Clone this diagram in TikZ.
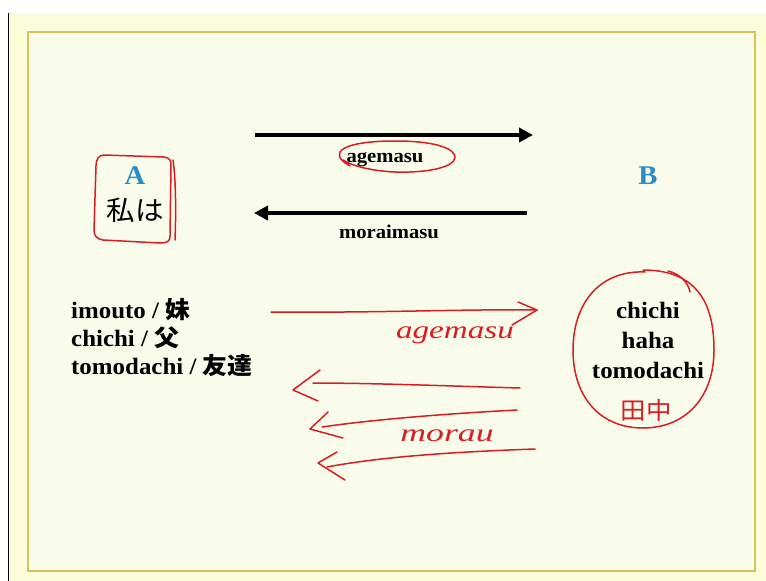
\documentclass[tikz,border=0pt]{standalone}
\usepackage{fontspec}
\setmainfont{Liberation Serif}[FakeStretch=1.06]
\newfontfamily\cjk{Noto Sans CJK JP}[FakeStretch=1.06]
\usetikzlibrary{arrows.meta}
\definecolor{slide}{HTML}{FBFDDA}
\definecolor{inner}{HTML}{F9FCEA}
\definecolor{gold}{HTML}{D6C35C}
\definecolor{ink}{HTML}{D81E22}
\definecolor{lblue}{HTML}{2B8BC6}
\begin{document}
\begin{tikzpicture}[x=1pt,y=-1pt,
  lbl/.style={inner sep=0pt,font=\bfseries\fontsize{19.5}{22}\selectfont},
  item/.style={inner sep=0pt,anchor=base west,font=\bfseries\fontsize{23.5}{26}\selectfont},
  ritem/.style={inner sep=0pt,anchor=base,font=\bfseries\fontsize{23.5}{26}\selectfont},
  letter/.style={inner sep=0pt,anchor=base,text=lblue,font=\bfseries\fontsize{27}{30}\selectfont},
  blackarrow/.style={line width=3.6pt,-{Triangle[length=14pt,width=14pt]}},
  pen/.style={draw=ink,line width=1.5pt,line cap=round,line join=round},
  hand/.style={inner sep=0pt,text=ink,font=\itshape\fontsize{25}{28}\selectfont}]
\useasboundingbox (0,0) rectangle (766,581);
\fill[white] (0,0) rectangle (766,581);
\fill[slide] (8,13) rectangle (766,581);
\draw[black,line width=0.8pt] (8.5,13) -- (8.5,581);
\draw[gold,line width=1.5pt,fill=inner] (28,32) rectangle (755,571);

% top arrows
\coordinate (t1s) at (255,135);
\coordinate (t1e) at (533,135);
\coordinate (t2s) at (527,213);
\coordinate (t2e) at (254,213);
\draw[blackarrow] (t1s) -- (t1e);
\draw[blackarrow] (t2s) -- (t2e);
\node[lbl,anchor=base] (age) at (385,162) {agemasu};
\node[lbl,anchor=base] (mor) at (389,238) {moraimasu};

% A and B
\node[letter] (A) at (135,184) {A};
\node[inner sep=0pt,anchor=base] (watashi) at (135,220) {\cjk\fontsize{27}{30}\selectfont 私は};
\node[letter] (B) at (648,184) {B};

% left list
\node[item] (l1) at (71,318) {imouto / {\cjk 妹}};
\node[item] (l2) at (71,346) {chichi / {\cjk 父}};
\node[item] (l3) at (71,374) {tomodachi / {\cjk 友達}};

% right list
\node[ritem] (r1) at (648,318) {chichi};
\node[ritem] (r2) at (648,348) {haha};
\node[ritem] (r3) at (648,378) {tomodachi};
\node[inner sep=0pt,text=ink] (tanaka) at (646,410) {\cjk\fontsize{24}{26}\selectfont 田中};

% red annotations
\draw[pen] (350,166) .. controls (325,152) and (345,141) .. (395,141)
  .. controls (440,141) and (456,150) .. (455,158)
  .. controls (453,168) and (425,173) .. (395,172)
  .. controls (372,171) and (352,166) .. (343,160);
\draw[pen] (104,155) -- (164,157) .. controls (170,158) and (171,160) .. (171,166)
  -- (170,236) .. controls (170,241) and (168,243) .. (160,243)
  -- (103,240) .. controls (97,239) and (94,236) .. (94,230)
  -- (96,166) .. controls (96,159) and (99,155) .. (104,155);
\draw[pen] (173,160) .. controls (176,180) and (176,215) .. (175,240);

\draw[pen] (643,270) .. controls (702,270) and (714,310) .. (714,350)
  .. controls (714,397) and (686,428) .. (643,428)
  .. controls (600,428) and (573,397) .. (573,350)
  .. controls (573,303) and (600,270) .. (645,272);
\draw[pen] (668,271) .. controls (680,274) and (688,282) .. (690,292);

% red hand-drawn arrows
\coordinate (h1s) at (271,312);
\coordinate (h1e) at (537,310);
\draw[pen] (h1s) .. controls (380,313) and (460,309) .. (h1e);
\draw[pen] (518,302) -- (h1e) -- (512,325);
\node[hand] (age2) at (455,335) {\scalebox{1.25}[1]{agemasu}};

\coordinate (h2s) at (520,388);
\coordinate (h2e) at (293,390);
\draw[pen] (h2s) .. controls (450,386) and (370,383) .. (313,383);
\draw[pen] (320,370) -- (h2e) -- (318,401);

\coordinate (h3s) at (517,410);
\coordinate (h3e) at (310,429);
\draw[pen] (h3s) .. controls (440,414) and (370,420) .. (322,427);
\draw[pen] (328,412) -- (h3e) -- (343,438);
\node[hand] (mor2) at (447,436) {\scalebox{1.35}[1]{morau}};

\coordinate (h4s) at (535,449);
\coordinate (h4e) at (318,463);
\draw[pen] (h4s) .. controls (450,452) and (380,457) .. (327,467);
\draw[pen] (337,452) -- (h4e) -- (345,480);
\end{tikzpicture}
\end{document}
